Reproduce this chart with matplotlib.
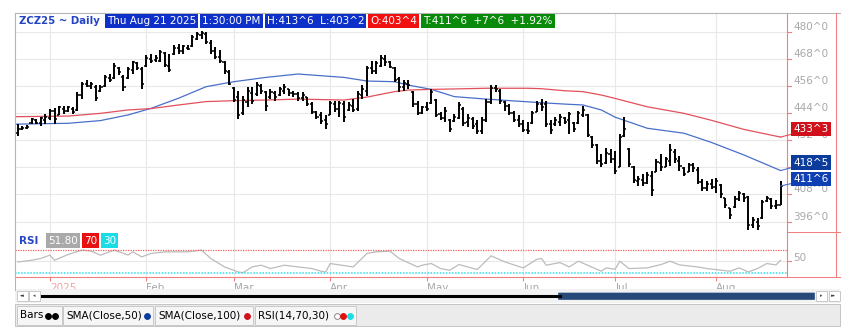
import numpy as np
import matplotlib
matplotlib.use("Agg")
import matplotlib.pyplot as plt
from matplotlib.lines import Line2D
from matplotlib.patches import Rectangle, FancyBboxPatch
from matplotlib.transforms import blended_transform_factory, offset_copy

# ZCZ25 daily bars, Dec 20 2024 .. Aug 21 2025 (bar index = session number)
month_pos = [7, 28, 47, 68, 89, 110, 130, 152]
month_lab = ['2025', 'Feb', 'Mar', 'Apr', 'May', 'Jun', 'Jul', 'Aug']

opens = [
    435, 437, 437.5, 439.5, 441, 439.5, 441, 442, 445, 443,
    446, 445, 446, 445.5, 452, 457, 456, 455.5, 454, 456,
    459.5, 459.5, 464, 460, 459.5, 463, 466, 463.5, 465, 468,
    467.5, 467, 470.5, 465, 470, 473, 471.5, 473, 473.5, 477,
    478.5, 479, 475, 471.5, 469, 466.5, 462, 455, 451, 444,
    449, 453, 452.5, 456, 453.5, 451, 453, 452, 454, 454.5,
    453, 452.5, 450.5, 451, 448, 444.5, 443, 441, 443, 448,
    446, 448, 445.5, 447, 446, 452, 454, 464, 462.5, 465,
    468, 466.5, 464, 459, 455.5, 457, 453.5, 448, 444, 446.5,
    448.5, 450, 443.5, 442, 441, 440.5, 442, 446, 440, 441.5,
    439, 436, 441, 449, 455, 454, 449, 447, 444, 441,
    439, 436.5, 439.5, 444.5, 448, 448, 439, 439, 440, 442,
    441, 439.5, 439.5, 443, 443, 433.5, 430, 423, 422, 426,
    423.5, 420, 434, 428, 420, 414, 414.5, 413, 416, 418,
    422, 420, 423, 427, 423, 419.5, 418, 421, 419, 413.5,
    411, 412.5, 411.5, 412, 406.5, 402, 402.5, 406, 408, 407,
    394.5, 396, 397.5, 405, 406, 403, 403.5]
highs = [
    439.25, 438.5, 438.75, 442, 441.5, 442.5, 443.5, 446, 446.25, 447.25,
    447.25, 447.25, 446.5, 453.25, 457.75, 458.5, 457.75, 456.25, 456.25, 460.75,
    461.5, 466, 464.5, 460.75, 464.5, 467.25, 466.5, 464.5, 469.5, 470.25,
    469.5, 471.75, 471, 470.25, 474, 474.75, 474, 474, 478.5, 480,
    480.5, 480, 476.25, 473.25, 471.75, 467.25, 463, 455.5, 454, 451.75,
    455.5, 455.5, 457.75, 457, 454, 454.75, 454, 455.5, 457, 454.75,
    454, 453.25, 453.25, 451, 448.75, 445, 444.5, 443, 449.5, 449.5,
    449.5, 449.5, 448.75, 450.25, 454, 456.25, 465, 467.25, 467.25, 469.5,
    469.5, 467.25, 464.5, 460, 458.5, 458.5, 454, 449.5, 447.25, 448.75,
    454.75, 450.25, 444.5, 446.5, 441.5, 443.5, 448.75, 446.5, 443.5, 442.25,
    440.75, 442.25, 450.25, 456.25, 456.25, 454.75, 449.5, 448, 445, 443,
    440.75, 440, 445, 449.5, 450.25, 449.5, 440.75, 442.25, 443.5, 442.25,
    444.5, 440, 445, 447.25, 443.5, 434, 430.25, 426, 428.75, 428,
    427.25, 434.75, 442.25, 428.75, 420.75, 416.25, 417, 417.75, 418.5, 423.5,
    426, 424.5, 430.25, 428, 425, 420, 422, 422, 420, 414.75,
    414, 414.75, 415.5, 412.5, 406.5, 402, 407.25, 409.5, 408.75, 407.25,
    398.25, 397.5, 405.75, 407.25, 406.5, 405.75, 413.75]
lows = [
    434, 436.5, 437, 439.25, 439, 438.5, 439.25, 440.75, 439.25, 443,
    443.5, 444.5, 443.5, 445, 450.25, 455.5, 454.75, 449.5, 453.25, 455.5,
    457.75, 459.25, 460.75, 454, 459.25, 461.5, 463, 454.75, 464.5, 466,
    466.5, 466.5, 464.5, 462, 469.5, 470.25, 470.25, 471.75, 473.25, 476.25,
    477, 474.75, 470.25, 468, 466, 461.5, 456.25, 448.75, 441.5, 443,
    446.5, 448, 451.75, 452.5, 445, 450.25, 449.5, 451.75, 452.5, 451.75,
    451, 449.5, 449.5, 447.25, 443.5, 441.5, 439.25, 437, 443, 444.5,
    442.25, 440, 445, 444.5, 445, 450.25, 451.75, 461.5, 461.5, 464.5,
    465, 463.75, 457.75, 453.25, 454, 454.5, 446.5, 443, 443.5, 445,
    448, 442.25, 440.75, 440, 435.5, 440, 441.5, 438.5, 437.75, 437,
    434.75, 434.75, 440, 448, 453.25, 448, 445, 443, 440, 437.75,
    435.5, 434.75, 439.25, 444.5, 445, 437.75, 434.75, 438.5, 438.5, 439.25,
    434.75, 435.5, 439.25, 442.25, 433.25, 428.75, 421.5, 420, 421.5, 422,
    417, 420, 433.25, 420, 413.25, 411.75, 411.75, 412.5, 407.25, 417.75,
    418.5, 420, 420.75, 422, 418.5, 416.25, 417.75, 417.75, 412.5, 409.5,
    409.5, 410.25, 408.75, 406.5, 402, 397, 402, 405, 404.5, 392.5,
    393.25, 392.5, 397, 404.5, 401.5, 401.5, 403.25]
closes = [
    437, 437.5, 438, 441.5, 439.5, 441.75, 442.5, 445, 441.5, 446.5,
    445, 446.5, 444.5, 452, 457, 456, 457, 450.5, 455.5, 460,
    458.5, 465, 462, 455.5, 463.5, 466.5, 464, 457, 468.5, 467,
    468.5, 471, 465.5, 463, 473, 471.5, 473.5, 472.5, 477.5, 479,
    479.5, 475.5, 471.5, 469, 467, 462.5, 457, 450, 443, 450,
    454, 449.5, 456.5, 454, 447, 453.5, 451, 454.5, 455.5, 453,
    452.5, 450.5, 452, 448, 444.5, 442.5, 440.5, 439, 448.5, 446,
    448.5, 442.5, 447.5, 445.5, 452.5, 454.5, 464, 462.5, 466, 468.5,
    466.5, 464.5, 458.5, 455.5, 457.5, 456.5, 448, 444, 446.5, 446,
    453.5, 443, 442, 445, 437, 442.5, 447.5, 439.5, 442, 438.5,
    436, 441, 449, 455, 454.5, 449.5, 447, 444, 441, 439,
    436.5, 436, 444, 448, 446.5, 439, 436.5, 441, 442.5, 440,
    443.5, 437, 444, 445.5, 434.5, 430, 423, 421.5, 426.5, 423.5,
    418.5, 433.5, 437, 421.5, 414.5, 415, 413, 416.5, 410, 422.5,
    420, 423.5, 427.5, 423.5, 420.5, 417, 421, 419.5, 413.5, 411,
    412.5, 411.5, 414, 408, 403.5, 399, 406, 408.5, 406.5, 394.5,
    396.5, 394, 404.5, 406.5, 403, 403.5, 411.75]

# moving averages at a set of sessions
sma_idx = [-1, 11, 18, 24, 29, 35, 41, 47, 54, 61, 71, 76, 82, 85, 90, 95,
           102, 111, 114, 119, 123, 127, 130, 137, 145, 151, 158, 166]
sma50 = [439.1, 439.5, 440.7, 443.2, 446.1, 450.6, 455.7, 457.9, 459.8, 461.3,
         459.8, 458.2, 457.9, 456.4, 454.5, 451.3, 450.2, 449.0, 448.6, 448.0,
         447.6, 445.4, 442.2, 437.3, 435.1, 431.0, 425.5, 418.6]
sma100 = [442.4, 442.7, 443.9, 445.4, 446.0, 447.6, 449.1, 449.5, 449.8, 450.2,
          449.8, 451.1, 453.5, 454.2, 454.5, 454.7, 455.0, 455.0, 454.8, 453.9,
          453.5, 452.0, 450.5, 446.8, 443.9, 440.8, 436.8, 433.4]

rsi_idx = [0, 3, 5, 7, 8, 11, 14, 16, 18, 21, 24, 25, 27, 29, 32, 37, 40, 42, 45,
           48, 49, 51, 53, 55, 58, 61, 64, 66, 67, 68, 73, 76, 78, 81, 83, 87,
           88, 90, 92, 94, 96, 100, 103, 106, 110, 113, 114, 115, 118, 120, 122,
           127, 128, 130, 131, 133, 137, 140, 142, 144, 148, 150, 155, 157, 159,
           161, 163, 165, 166]
rsi_val = [49, 52, 55, 60.8, 52, 62, 69.5, 67.7, 60.8, 69.5, 61, 66.5, 57.8, 63.7,
           66.5, 66.5, 69.5, 55, 40.4, 31.7, 30.6, 40.4, 43.4, 37.6, 43.4, 40.4,
           37.6, 33, 31.7, 46.3, 40.4, 63.7, 66.5, 67.7, 55, 40.4, 43.4, 46.3,
           37.6, 34.7, 44.6, 35.9, 59.6, 49.1, 38.7, 53.8, 55, 43.4, 48, 40.4,
           50.3, 33, 38.7, 36.4, 50.3, 37.6, 38.7, 44.6, 50.3, 43.9, 40.4, 37.6,
           33, 38.7, 31.7, 37.6, 46.3, 43.9, 51.8]

price_ticks = [480, 468, 456, 444, 432, 420, 408, 396]

header = [('Thu Aug 21 2025', '#0d30c8'), ('1:30:00 PM', '#0d30c8'),
          ('H:413^6  L:403^2', '#0d30c8'), ('O:403^4', '#f01010'),
          ('T:411^6  +7^6  +1.92%', '#0a8a0a')]

W, H = 853, 327
fig = plt.figure(figsize=(W / 100, H / 100), dpi=100)
fig.patch.set_facecolor('white')
renderer = fig.canvas.get_renderer()

RED = '#f08080'
GRAY = '#b4b4b4'
GRID = '#e8e8e8'


def fx(px):
    return px / W


def fy(py):
    return 1 - py / H


def fline(x0, y0, x1, y1, color, lw=0.75):
    fig.add_artist(Line2D([fx(x0), fx(x1)], [fy(y0), fy(y1)], color=color,
                          lw=lw, transform=fig.transFigure, zorder=5))


def frect(x0, y0, x1, y1, fc, ec='none', z=1):
    fig.add_artist(Rectangle((fx(x0), fy(y1)), fx(x1) - fx(x0), fy(y0) - fy(y1),
                             transform=fig.transFigure, fc=fc, ec=ec, lw=0.7,
                             zorder=z))


def ftext(x, y, s, color='white', size=7.5, weight='normal', fc=None):
    bb = None if fc is None else dict(boxstyle='square,pad=0.2', fc=fc, ec='none')
    t = fig.text(fx(x), fy(y), s, color=color, fontsize=size, fontweight=weight,
                 ha='left', va='center', bbox=bb, zorder=20)
    return t.get_window_extent(renderer).width


ax = fig.add_axes([fx(15), fy(232), fx(787) - fx(15), fy(13) - fy(232)])
ax2 = fig.add_axes([fx(15), fy(277), fx(787) - fx(15), fy(232) - fy(277)])

# --- price panel ---
x = np.arange(len(closes))
ax.vlines(x, lows, highs, color='black', lw=1.4, zorder=3)
ax.hlines(opens, x - 0.45, x, color='black', lw=1.1, zorder=3)
ax.hlines(closes, x, x + 0.45, color='black', lw=1.1, zorder=3)
ax.plot(sma_idx, sma50, color='#4a6fc9', lw=0.9, zorder=2)
ax.plot(sma_idx, sma100, color='#e2505c', lw=0.9, zorder=2)

ax.set_xlim(-0.6, 167.4)
ax.set_ylim(391.4, 488.3)
ax.set_xticks(month_pos)
ax.set_yticks(price_ticks)
ax.grid(color=GRID, lw=0.8)
ax.set_axisbelow(True)
ax.tick_params(length=0, labelleft=False, labelbottom=False)
for s in ['top', 'left']:
    ax.spines[s].set_color(GRAY)
ax.spines['right'].set_color(RED)
ax.spines['bottom'].set_visible(False)

tr = blended_transform_factory(ax.transAxes, ax.transData)
lab_tr = offset_copy(tr, fig=fig, x=6, y=5, units='dots')
for p in price_ticks:
    ax.text(1, p, f'{p}^0', transform=lab_tr, ha='left', va='center',
            color='#a8a8a8', fontsize=7.5, clip_on=False)
    ax.plot([1, 1 + 4 / 772], [p, p], transform=tr, color=RED, lw=0.8,
            clip_on=False)


def badge(val, text, fc, lc, dy):
    ax.annotate(text, xy=(x[-1], val), xytext=(13, dy), textcoords='offset pixels',
                ha='left', va='center', color='white', fontsize=7.5,
                bbox=dict(boxstyle='square,pad=0.2', fc=fc, ec='none'),
                arrowprops=dict(arrowstyle='-', color=lc, lw=0.8,
                                shrinkA=0, shrinkB=0),
                annotation_clip=False, zorder=15)


badge(sma100[-1], '433^3', '#d0101a', '#e2505c', 8)
badge(sma50[-1], '418^5', '#0b3b9b', '#4a6fc9', 8)
badge(closes[-1], '411^6', '#0e40b4', '#4a6fc9', 7)

# --- RSI panel ---
ax2.plot(rsi_idx, rsi_val, color='#bcbcbc', lw=0.9)
ax2.axhline(70, color='#f06060', ls=(0, (1, 1)), lw=0.9)
ax2.axhline(30, color='#30e0e8', ls=(0, (1, 1)), lw=1.1)
ax2.set_xlim(-0.6, 167.4)
ax2.set_ylim(23, 100.8)
ax2.set_yticks([50])
ax2.set_xticks(month_pos)
ax2.set_xticklabels(month_lab, ha='left', fontsize=7.5)
ax2.grid(color=GRID, lw=0.8)
ax2.set_axisbelow(True)
ax2.tick_params(axis='y', length=0, labelleft=False)
ax2.tick_params(axis='x', color=RED, length=3, width=0.8, pad=1.5,
                labelcolor='#a8a8a8')
ax2.get_xticklabels()[0].set_color('#f4a0a0')
ax2.spines['top'].set_visible(False)
ax2.spines['left'].set_color(GRAY)
ax2.spines['right'].set_color(RED)
ax2.spines['bottom'].set_color(RED)
tr2 = blended_transform_factory(ax2.transAxes, ax2.transData)
ax2.text(1, 50, '50', transform=offset_copy(tr2, fig=fig, x=6, y=3, units='dots'),
         ha='left', va='center', color='#a8a8a8', fontsize=7.5, clip_on=False)
ax2.plot([1, 1 + 4 / 772], [50, 50], transform=tr2, color=RED, lw=0.8,
         clip_on=False)

# --- frame of the price scale ---
fline(787, 12.7, 840, 12.7, GRAY)
fline(836, 13, 836, 277, RED)
fline(787, 232, 840, 232, RED)
fline(787, 277, 840, 277, RED)
fline(15, 277, 15, 290, GRAY)

# --- header, boxes chained left to right ---
ftext(19, 21, 'ZCZ25 ~ Daily', color='#2444c4', size=7.3, weight='bold')
hx = 107
for s, c in header:
    w = ftext(hx, 21, s, fc=c, size=7.5)
    hx += w + 6

ftext(19, 240.5, 'RSI', color='#2444c4', size=7.5, weight='bold')
rx = 48
for s, c in (('51.80', '#a9a9a9'), ('70', '#e81010'), ('30', '#18dde6')):
    w = ftext(rx, 240.5, s, fc=c)
    rx += w + 6

# --- scroll bar ---
frect(15, 289, 840, 303, '#f2f2f2')
for x0 in (17, 29, 816, 829):
    frect(x0, 291, x0 + 11, 301, 'white', ec='#c8c8c8', z=2)
fline(42, 296, 560, 296, 'black', lw=2.2)
fig.add_artist(FancyBboxPatch((fx(559), fy(299.5)), fx(814) - fx(559),
                              fy(293) - fy(299.5), boxstyle='round,pad=0.001',
                              transform=fig.transFigure, fc='#26497a',
                              ec='none', zorder=3))
for xx, s in ((19.5, '◂◂'), (32.5, '◂'), (819.5, '▸'), (831, '▸▸')):
    fig.text(fx(xx), fy(296), s, fontsize=3.5, color='#444444', va='center',
             ha='left', zorder=21)

# --- indicator legend strip ---
frect(15, 304, 840, 326, '#ebebeb', ec='#c4c4c4')
for x0, x1 in ((17, 62), (63, 153), (155, 253), (255, 356)):
    frect(x0, 306, x1, 325, '#f6f6f6', ec='#c8c8c8', z=2)
ftext(20, 315.5, 'Bars', color='black', size=7.5)
ftext(66, 315.5, 'SMA(Close,50)', color='black', size=7.5)
ftext(158, 315.5, 'SMA(Close,100)', color='black', size=7.5)
ftext(258, 315.5, 'RSI(14,70,30)', color='black', size=7.5)
dots = [(48, 'black', 'black'), (55, 'black', 'black'), (147, '#0b3b9b', '#0b3b9b'),
        (247, '#d0101a', '#d0101a'), (337, 'white', '#888888'),
        (343, '#e01010', '#e01010'), (350, '#18dde6', '#18dde6')]
for xx, fc, ec in dots:
    fig.add_artist(Line2D([fx(xx)], [fy(315.5)], marker='o', ms=4.2, mfc=fc,
                          mec=ec, mew=0.7, ls='none', transform=fig.transFigure,
                          zorder=22))

fig.savefig('out.png', dpi=100)
